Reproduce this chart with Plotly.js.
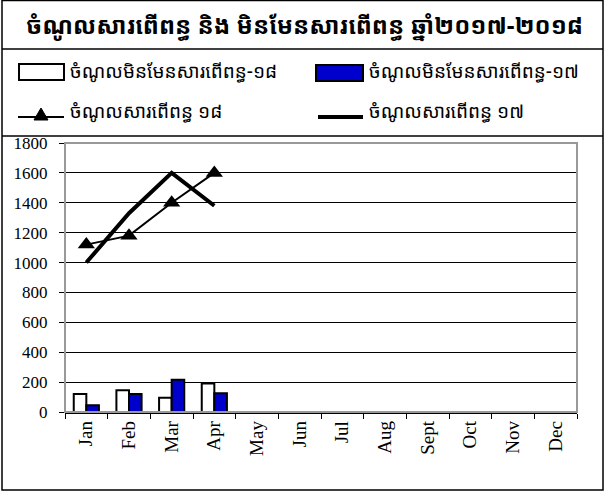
<!DOCTYPE html>
<html>
<head>
<meta charset="utf-8">
<script src="https://cdn.plot.ly/plotly-3.0.1.min.js"></script>
<style>html,body{margin:0;padding:0;background:#fff;}#chart{width:607px;height:493px;}</style>
</head>
<body>
<div id="chart"></div>
<script>
// ---- data ----
const months = ['Jan','Feb','Mar','Apr','May','Jun','Jul','Aug','Sept','Oct','Nov','Dec'];
const dataMonths = ['Jan','Feb','Mar','Apr'];
const nonTax18 = [120, 145, 95, 190];
const nonTax17 = [45, 120, 215, 125];
const tax18 = [1120, 1180, 1400, 1600];
const tax17 = [1000, 1330, 1600, 1380];
const titleText = 'ចំណូលសារពើពន្ធ និង មិនមែនសារពើពន្ធ ឆ្នាំ២០១៧-២០១៨';
const seriesNames = ['ចំណូលមិនមែនសារពើពន្ធ-១៨', 'ចំណូលមិនមែនសារពើពន្ធ-១៧', 'ចំណូលសារពើពន្ធ ១៨', 'ចំណូលសារពើពន្ធ ១៧'];

// ---- layout helpers (pixel -> paper) ----
const L = 65, R = 30, T = 143, B = 81, W = 607, H = 493;
const pw = W - L - R, ph = H - T - B;
const px = x => (x - L) / pw;
const py = y => (H - B - y) / ph;
const khmer = "Khmer OS, Noto Sans Khmer, Noto Serif Khmer, Liberation Serif, serif";
const serif = "Liberation Serif, Times New Roman, serif";

const traces = [
  {type:'bar', name:seriesNames[0], x:dataMonths, y:nonTax18, marker:{color:'#ffffff', line:{color:'#000', width:2}}, showlegend:false},
  {type:'bar', name:seriesNames[1], x:dataMonths, y:nonTax17, marker:{color:'#0000cc', line:{color:'#000', width:2}}, showlegend:false},
  {type:'scatter', mode:'lines', name:seriesNames[3], x:dataMonths, y:tax17, line:{color:'#000', width:4}, showlegend:false},
  {type:'scatter', mode:'lines+markers', name:seriesNames[2], x:dataMonths, y:tax18, line:{color:'#000', width:2}, marker:{symbol:'triangle-up', size:15, color:'#000'}, showlegend:false}
];

const shapes = [
  {type:'rect', xref:'paper', yref:'paper', x0:px(2), x1:px(603), y0:py(490), y1:py(0.5), line:{color:'#000', width:1.5}},
  {type:'line', xref:'paper', yref:'paper', x0:px(2), x1:px(603), y0:py(49), y1:py(49), line:{color:'#000', width:1.5}},
  {type:'line', xref:'paper', yref:'paper', x0:px(2), x1:px(603), y0:py(136), y1:py(136), line:{color:'#000', width:1.5}},
  {type:'rect', xref:'paper', yref:'paper', x0:0, x1:1, y0:0, y1:1, line:{color:'#999', width:2}},
  // legend swatches
  {type:'rect', xref:'paper', yref:'paper', x0:px(19), x1:px(64), y0:py(80), y1:py(64), fillcolor:'#fff', line:{color:'#000', width:2}},
  {type:'rect', xref:'paper', yref:'paper', x0:px(316), x1:px(363), y0:py(81), y1:py(65), fillcolor:'#0000cc', line:{color:'#000', width:2}},
  {type:'line', xref:'paper', yref:'paper', x0:px(18), x1:px(64), y0:py(117), y1:py(117), line:{color:'#000', width:2}},
  {type:'path', xref:'paper', yref:'paper', path:`M${px(34)},${py(120)} L${px(48)},${py(120)} L${px(41)},${py(108)} Z`, fillcolor:'#000', line:{color:'#000', width:1}},
  {type:'line', xref:'paper', yref:'paper', x0:px(318), x1:px(363), y0:py(117), y1:py(117), line:{color:'#000', width:4}}
];

const annotations = [
  {xref:'paper', yref:'paper', x:px(304), y:py(25), text:'<b>'+titleText+'</b>', showarrow:false, xanchor:'center', yanchor:'middle', font:{family:khmer, size:24, color:'#000'}},
  {xref:'paper', yref:'paper', x:px(68), y:py(71), text:seriesNames[0], showarrow:false, xanchor:'left', yanchor:'middle', font:{family:khmer, size:19, color:'#000'}},
  {xref:'paper', yref:'paper', x:px(367), y:py(71), text:seriesNames[1], showarrow:false, xanchor:'left', yanchor:'middle', font:{family:khmer, size:19, color:'#000'}},
  {xref:'paper', yref:'paper', x:px(68), y:py(111), text:seriesNames[2], showarrow:false, xanchor:'left', yanchor:'middle', font:{family:khmer, size:19, color:'#000'}},
  {xref:'paper', yref:'paper', x:px(367), y:py(111), text:seriesNames[3], showarrow:false, xanchor:'left', yanchor:'middle', font:{family:khmer, size:19, color:'#000'}}
];

const layout = {
  width: W, height: H,
  margin: {l:L, r:R, t:T, b:B, pad:0},
  paper_bgcolor:'#fff', plot_bgcolor:'#fff',
  barmode:'group', bargap:0.41, bargroupgap:0,
  showlegend:false,
  font:{family:serif, color:'#000'},
  xaxis:{type:'category', categoryorder:'array', categoryarray:months, range:[-0.5, 11.5],
         showline:true, linecolor:'#000', linewidth:1.5, ticks:'outside', tickson:'boundaries', ticklen:5, tickcolor:'#000', tickwidth:1,
         tickangle:-90, tickfont:{family:serif, size:19, color:'#000'}, showgrid:false, zeroline:false, fixedrange:true},
  yaxis:{range:[0,1800], dtick:200, showgrid:true, gridcolor:'#000', gridwidth:1, zeroline:false,
         showline:false, ticks:'outside', ticklen:5, tickcolor:'#000', tickwidth:1, ticklabelstandoff:8,
         tickfont:{family:serif, size:17, color:'#000'}, fixedrange:true},
  shapes: shapes,
  annotations: annotations
};

Plotly.newPlot('chart', traces, layout, {displayModeBar:false, staticPlot:true});
</script>
</body>
</html>
